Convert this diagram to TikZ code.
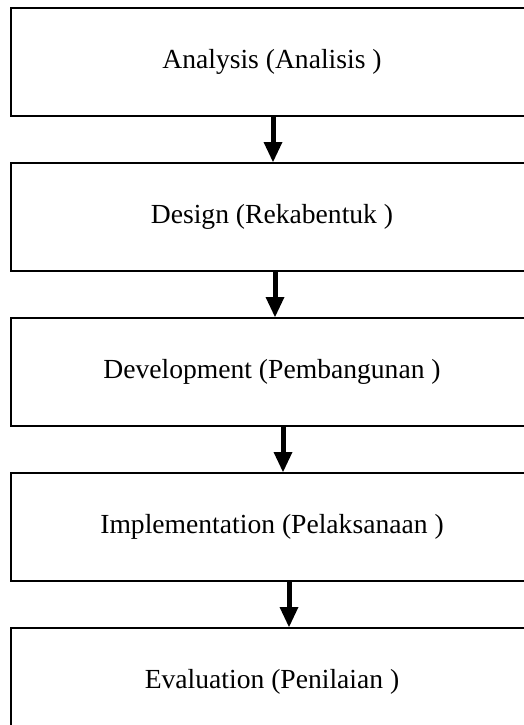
\documentclass[tikz,border=0pt]{standalone}
\usepackage{fontspec}
\setmainfont{Liberation Serif}
\usetikzlibrary{arrows.meta, positioning}
\tikzset{phase/.style={draw, line width=2pt, minimum width=522pt, minimum height=108pt, inner sep=0pt, font=\fontsize{27.6}{33}\selectfont}}

\begin{document}
\begin{tikzpicture}[>={Triangle[width=19pt, length=20pt, line width=0pt]}, node distance=45pt]
\useasboundingbox (0,0) rectangle (523pt,-725pt);
\node[phase] (p1) at (272pt,-62pt) {Analysis (Analisis )};
\node[phase, below=of p1] (p2) {Design (Rekabentuk )};
\node[phase, below=of p2] (p3) {Development (Pembangunan )};
\node[phase, below=of p3] (p4) {Implementation (Pelaksanaan )};
\node[phase, below=of p4] (p5) {Evaluation (Penilaian )};
\draw [->, line width=5pt] ([xshift=1pt]p1.south) -- ([xshift=1pt]p2.north);
\draw [->, line width=5pt] ([xshift=3pt]p2.south) -- ([xshift=3pt]p3.north);
\draw [->, line width=5pt] ([xshift=11pt]p3.south) -- ([xshift=11pt]p4.north);
\draw [->, line width=5pt] ([xshift=17pt]p4.south) -- ([xshift=17pt]p5.north);
\end{tikzpicture}
\end{document}
